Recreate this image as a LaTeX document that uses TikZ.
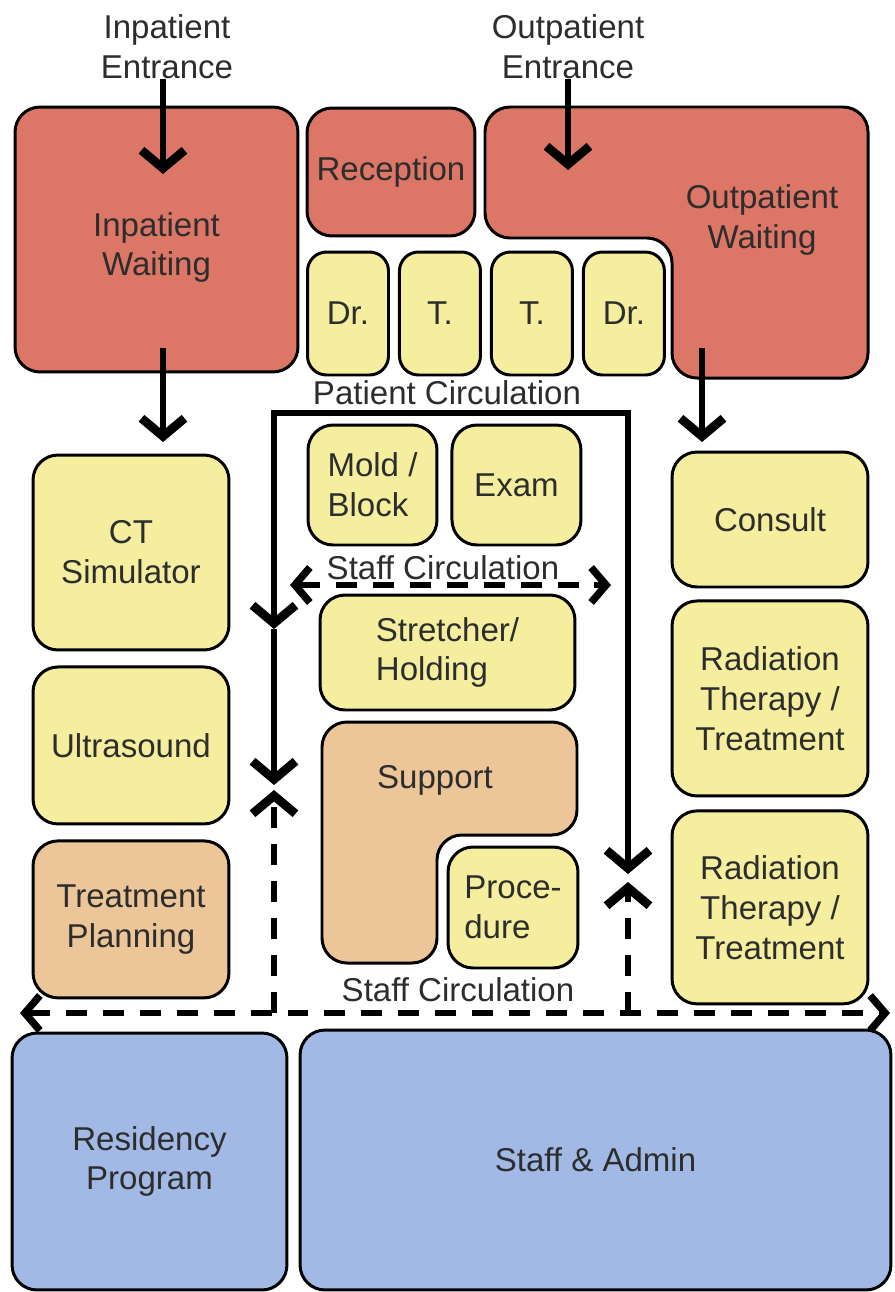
\documentclass[tikz,border=0pt]{standalone}
\usepackage{fontspec}
\setmainfont{Liberation Sans}
\usetikzlibrary{arrows.meta,positioning}
\definecolor{waitred}{RGB}{220,118,102}
\definecolor{roomyellow}{RGB}{245,238,158}
\definecolor{supporttan}{RGB}{236,197,152}
\definecolor{adminblue}{RGB}{161,185,228}
\definecolor{labelgray}{RGB}{45,45,45}
\newcommand{\planfont}{\fontsize{18.8}{22.7}\selectfont}
\tikzset{
  room/.style={rectangle,rounded corners=0.5cm,draw=black,line width=1.7pt,align=center,text=labelgray,font=\planfont,inner sep=0pt},
  redroom/.style={room,fill=waitred},
  yelroom/.style={room,fill=roomyellow},
  tanroom/.style={room,fill=supporttan},
  blueroom/.style={room,fill=adminblue},
  smallroom/.style={yelroom,rounded corners=0.38cm,minimum width=1.62cm,minimum height=2.46cm},
  sideroom/.style={yelroom,minimum width=3.92cm},
  lshape/.style={draw=black,line width=1.7pt,rounded corners=0.5cm},
  textlbl/.style={align=center,text=labelgray,font=\planfont,inner sep=0pt},
  bighead/.tip={Straight Barb[length=3.6mm,width=8.6mm,line width=5pt]},
  smallhead/.tip={Straight Barb[length=3mm,width=7mm,line width=4.2pt]},
  flowarr/.style={-bighead,line width=3pt},
  circline/.style={line width=3pt},
  circarr/.style={circline,-bighead},
  circboth/.style={circline,bighead-bighead},
  staffboth/.style={line width=3pt,dash pattern=on 0.42cm off 0.32cm,smallhead-smallhead},
  staffarr/.style={line width=3pt,dash pattern=on 0.42cm off 0.32cm,-bighead}
}

\begin{document}
\begin{tikzpicture}[x=0.02cm,y=-0.02cm]
  \useasboundingbox (0,0) rectangle (894,1292);

  % entrances and waiting
  \node[textlbl] (inent) at (167,47) {Inpatient\\Entrance};
  \node[textlbl] (outent) at (568,47) {Outpatient\\Entrance};
  \node[redroom,minimum width=5.66cm,minimum height=5.3cm] (inwait) at (156.5,239.5) {\\Inpatient\\Waiting};
  \node[redroom,minimum width=3.36cm,minimum height=2.56cm] (recep) at (391,172) {Reception};
  \draw[lshape,fill=waitred] (485,107) -- (868,107) -- (868,378) -- (672,378) -- (672,238) -- (485,238) -- cycle;
  \node[textlbl] (outwait) at (762,220) {Outpatient\\Waiting};

  % exam rooms
  \node[smallroom] (dr1) at (348,313.5) {Dr.};
  \node[smallroom,right=0.16cm of dr1] (t1) {T.};
  \node[smallroom,right=0.16cm of t1] (t2) {T.};
  \node[smallroom,right=0.16cm of t2] (dr2) {Dr.};
  \node[textlbl] (pclbl) at (447,393) {Patient Circulation};

  % core
  \node[yelroom,minimum width=2.58cm,minimum height=2.4cm,align=left] (mold) at (372.5,485) {Mold /\\Block};
  \node[yelroom,minimum width=2.58cm,minimum height=2.4cm,right=0.24cm of mold] (exam) {Exam};
  \node[textlbl] (sclbl) at (443,568) {Staff Circulation};
  \node[yelroom,minimum width=5.1cm,minimum height=2.3cm,align=left] (stretch) at (447.5,652.5) {Stretcher/\\Holding};
  \draw[lshape,fill=supporttan] (322,722) -- (577,722) -- (577,835) -- (437,835) -- (437,963) -- (322,963) -- cycle;
  \node[textlbl] (support) at (435,780) {Support};
  \node[yelroom,minimum width=2.6cm,minimum height=2.42cm,align=left] (proc) at (513,907.5) {Proce-\\dure};
  \node[textlbl] (sclbl2) at (458,990) {Staff Circulation};

  % left column
  \node[sideroom,minimum height=3.9cm] (ct) at (131,552.5) {CT\\Simulator};
  \node[sideroom,minimum height=3.14cm,below=0.28cm of ct] (us) {Ultrasound};
  \node[sideroom,tanroom,minimum height=3.14cm,below=0.28cm of us] (plan) {Treatment\\Planning};

  % right column
  \node[sideroom,minimum height=2.7cm] (consult) at (770,519.5) {Consult};
  \node[sideroom,minimum height=3.9cm,below=0.22cm of consult] (rt1) {Radiation\\Therapy /\\Treatment};
  \node[sideroom,minimum height=3.86cm,below=0.24cm of rt1] (rt2) {Radiation\\Therapy /\\Treatment};

  % admin
  \node[blueroom,minimum width=5.5cm,minimum height=5.14cm] (resid) at (149.5,1161.5) {Residency\\Program};
  \node[blueroom,minimum width=11.82cm,minimum height=5.2cm] (admin) at (595.5,1160) {Staff \& Admin};

  % patient flow
  \coordinate (inent-tip) at (163,174);
  \coordinate (outent-tip) at (568,170);
  \coordinate (inwait-exit) at (163,348);
  \coordinate (ct-in) at (163,442);
  \coordinate (outwait-exit) at (702,348);
  \coordinate (consult-in) at (702,442);
  \draw[flowarr] (inent.south -| inent-tip) -- (inent-tip);
  \draw[flowarr] (outent.south -| outent-tip) -- (outent-tip);
  \draw[flowarr] (inwait-exit) -- (ct-in);
  \draw[flowarr] (outwait-exit) -- (consult-in);

  % patient circulation loop
  \coordinate (pc-tl) at (274,413);
  \coordinate (pc-tr) at (628,413);
  \coordinate (pc-lmid) at (274,629);
  \coordinate (pc-lend) at (274,785);
  \coordinate (pc-rend) at (628,874);
  \draw[circboth] (pc-lmid) -- (pc-tl) -- (pc-tr) -- (pc-rend);
  \draw[circarr] (pc-lmid) -- (pc-lend);

  % staff circulation
  \coordinate (sc-l) at (290,585);
  \coordinate (sc-r) at (611,585);
  \draw[staffboth] (sc-l) -- (sc-r);
  \coordinate (sb-l) at (20,1013);
  \coordinate (sb-r) at (890,1013);
  \coordinate (sb-lup) at (274,1013);
  \coordinate (sb-rup) at (628,1013);
  \coordinate (sb-ltip) at (274,790);
  \coordinate (sb-rtip) at (628,882);
  \draw[staffboth] (sb-l) -- (sb-r);
  \draw[staffarr] (sb-lup) -- (sb-ltip);
  \draw[staffarr] (sb-rup) -- (sb-rtip);
\end{tikzpicture}
\end{document}
